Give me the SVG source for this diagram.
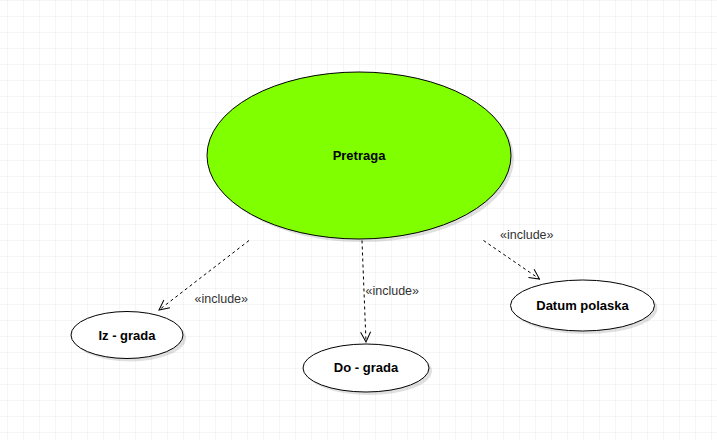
<svg xmlns="http://www.w3.org/2000/svg" width="717" height="440" viewBox="0 0 717 440">
<defs>
<pattern id="grid" x="7" y="0" width="16" height="16" patternUnits="userSpaceOnUse">
<path d="M0 0 V16 M0 0 H16" fill="none" stroke="#ebebeb" stroke-width="1"/>
</pattern>
<marker id="open" viewBox="0 0 12 12" refX="11" refY="6" markerWidth="12" markerHeight="12" markerUnits="userSpaceOnUse" orient="auto">
<path d="M1 1 L11 6 L1 11" fill="none" stroke="#000" stroke-width="1"/>
</marker>
</defs>
<style>
.uc{stroke:#000;stroke-width:1}
.sh{fill:#000;opacity:0.12}
.lbl{font-family:"Liberation Sans",Arial,sans-serif;font-size:13px;font-weight:bold;fill:#000;text-anchor:middle}
.inc{font-family:"Liberation Sans",Arial,sans-serif;font-size:12.5px;fill:#333;text-anchor:start}
.conn{fill:none;stroke:#000;stroke-width:1;stroke-dasharray:3 3;marker-end:url(#open)}
</style>
<rect width="717" height="440" fill="#fff"/>
<rect width="717" height="440" fill="url(#grid)"/>
<g id="pretraga">
<ellipse class="sh" cx="362" cy="158.5" rx="152" ry="83.5"/>
<ellipse class="uc" cx="359" cy="155.5" rx="152" ry="83.5" fill="#80ff00"/>
<text class="lbl" x="359" y="160">Pretraga</text>
</g>
<g id="iz-grada">
<ellipse class="sh" cx="130" cy="338" rx="56" ry="23.5"/>
<ellipse class="uc" cx="127" cy="335" rx="56" ry="23.5" fill="#fff"/>
<text class="lbl" x="127" y="340">Iz - grada</text>
</g>
<g id="do-grada">
<ellipse class="sh" cx="369" cy="371" rx="63" ry="24"/>
<ellipse class="uc" cx="366" cy="368" rx="63" ry="24" fill="#fff"/>
<text class="lbl" x="366" y="372">Do - grada</text>
</g>
<g id="datum-polaska">
<ellipse class="sh" cx="585.5" cy="308.5" rx="72" ry="25.5"/>
<ellipse class="uc" cx="582.5" cy="305.5" rx="72" ry="25.5" fill="#fff"/>
<text class="lbl" x="582.5" y="310">Datum polaska</text>
</g>
<g id="connectors">
<path class="conn" d="M249 240.5 L159 310"/>
<path class="conn" d="M362 240.5 L366 342"/>
<path class="conn" d="M483.5 240.5 L539.5 279"/>
<text class="inc" x="194.5" y="303">«include»</text>
<text class="inc" x="365.5" y="294.5">«include»</text>
<text class="inc" x="500" y="239">«include»</text>
</g>
</svg>
